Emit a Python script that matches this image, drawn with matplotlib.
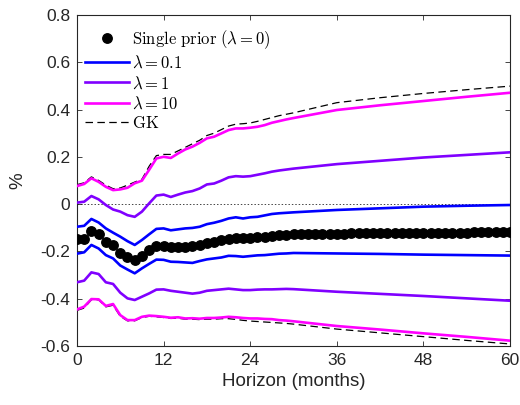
import numpy as np
import matplotlib
matplotlib.use("Agg")
import matplotlib.pyplot as plt

plt.rcParams['font.family'] = ['Liberation Sans', 'DejaVu Sans']
plt.rcParams['mathtext.fontset'] = 'cm'

# horizons: monthly up to 30, then every 6 months
h_lines = list(range(0, 31)) + [36, 42, 48, 54, 60]
h_dots = list(range(0, 61))

single_prior = [-0.149, -0.148, -0.113, -0.128, -0.159, -0.175, -0.205, -0.224, -0.237, -0.218,
                -0.194, -0.176, -0.178, -0.182, -0.182, -0.180, -0.179, -0.172, -0.166, -0.161,
                -0.153, -0.146, -0.142, -0.144, -0.144, -0.141, -0.138, -0.135, -0.132, -0.130,
                -0.128, -0.127, -0.127, -0.126, -0.126, -0.125, -0.125, -0.125, -0.124, -0.124,
                -0.124, -0.123, -0.123, -0.123, -0.123, -0.122, -0.122, -0.122, -0.122, -0.122,
                -0.121, -0.121, -0.121, -0.121, -0.121, -0.120, -0.120, -0.120, -0.120, -0.120,
                -0.120]

blue_up = [-0.096, -0.092, -0.063, -0.078, -0.103, -0.121, -0.138, -0.157, -0.173, -0.152,
           -0.128, -0.105, -0.103, -0.111, -0.107, -0.103, -0.101, -0.096, -0.085, -0.079,
           -0.071, -0.061, -0.056, -0.061, -0.056, -0.054, -0.048, -0.042, -0.039, -0.037,
           -0.035, -0.025, -0.018, -0.011, -0.007, -0.004]
blue_lo = [-0.210, -0.204, -0.173, -0.188, -0.216, -0.230, -0.260, -0.277, -0.293, -0.272,
           -0.253, -0.235, -0.236, -0.244, -0.245, -0.247, -0.249, -0.241, -0.234, -0.230,
           -0.226, -0.219, -0.220, -0.223, -0.220, -0.217, -0.216, -0.213, -0.210, -0.209,
           -0.207, -0.209, -0.211, -0.214, -0.216, -0.218]
purple_up = [0.006, 0.010, 0.034, 0.020, -0.004, -0.023, -0.032, -0.047, -0.054, -0.032,
             0.003, 0.036, 0.040, 0.030, 0.040, 0.049, 0.055, 0.066, 0.083, 0.087,
             0.099, 0.113, 0.118, 0.116, 0.118, 0.124, 0.130, 0.137, 0.142, 0.146,
             0.150, 0.169, 0.183, 0.197, 0.208, 0.219]
purple_lo = [-0.331, -0.324, -0.289, -0.296, -0.331, -0.338, -0.375, -0.399, -0.406, -0.392,
             -0.378, -0.362, -0.361, -0.367, -0.371, -0.375, -0.379, -0.375, -0.367, -0.364,
             -0.361, -0.358, -0.361, -0.364, -0.364, -0.362, -0.361, -0.361, -0.360, -0.359,
             -0.360, -0.371, -0.380, -0.389, -0.399, -0.409]
magenta_up = [0.076, 0.085, 0.109, 0.094, 0.073, 0.059, 0.062, 0.069, 0.088, 0.099,
              0.145, 0.193, 0.200, 0.195, 0.214, 0.231, 0.243, 0.259, 0.278, 0.285,
              0.299, 0.313, 0.320, 0.320, 0.323, 0.327, 0.334, 0.344, 0.351, 0.358,
              0.364, 0.398, 0.418, 0.436, 0.454, 0.471]
magenta_lo = [-0.446, -0.434, -0.402, -0.403, -0.431, -0.423, -0.470, -0.491, -0.491, -0.477,
              -0.472, -0.474, -0.477, -0.481, -0.479, -0.484, -0.483, -0.485, -0.482, -0.482,
              -0.480, -0.477, -0.479, -0.482, -0.484, -0.484, -0.486, -0.487, -0.491, -0.493,
              -0.496, -0.516, -0.531, -0.547, -0.562, -0.578]
gk_up = [0.082, 0.090, 0.115, 0.100, 0.080, 0.065, 0.068, 0.080, 0.093, 0.105,
         0.160, 0.205, 0.210, 0.210, 0.225, 0.240, 0.255, 0.270, 0.290, 0.300,
         0.315, 0.330, 0.338, 0.340, 0.343, 0.350, 0.358, 0.366, 0.374, 0.380,
         0.386, 0.429, 0.450, 0.468, 0.484, 0.499]
gk_lo = [-0.450, -0.440, -0.405, -0.405, -0.435, -0.428, -0.475, -0.494, -0.494, -0.480,
         -0.475, -0.477, -0.480, -0.484, -0.483, -0.487, -0.487, -0.489, -0.487, -0.487,
         -0.485, -0.485, -0.488, -0.492, -0.495, -0.497, -0.499, -0.501, -0.503, -0.505,
         -0.508, -0.529, -0.545, -0.561, -0.577, -0.592]

xticks = [0, 12, 24, 36, 48, 60]
yticks = [-0.6, -0.4, -0.2, 0, 0.2, 0.4, 0.6, 0.8]
ytick_labels = ["-0.6", "-0.4", "-0.2", "0", "0.2", "0.4", "0.6", "0.8"]

c_blue = "#0000ff"
c_purple = "#8000ff"
c_magenta = "#ff00ff"
txt = "#262626"

fig = plt.figure(figsize=(5.2, 4.05), dpi=100)
ax = fig.add_axes([0.148, 0.146, 0.833, 0.817])

ax.axhline(0, color="#444444", lw=0.7, ls=(0, (1.5, 2)), zorder=1)

lw = 1.9
ax.plot(h_lines, gk_up, color="k", lw=0.9, ls=(0, (6, 3.5)), zorder=2)
ax.plot(h_lines, gk_lo, color="k", lw=0.9, ls=(0, (6, 3.5)), zorder=2)
ax.plot(h_lines, blue_up, color=c_blue, lw=lw, zorder=3)
ax.plot(h_lines, blue_lo, color=c_blue, lw=lw, zorder=3)
ax.plot(h_lines, purple_up, color=c_purple, lw=lw, zorder=3)
ax.plot(h_lines, purple_lo, color=c_purple, lw=lw, zorder=3)
ax.plot(h_lines, magenta_up, color=c_magenta, lw=lw, zorder=3)
ax.plot(h_lines, magenta_lo, color=c_magenta, lw=lw, zorder=3)
ax.plot(h_dots, single_prior, "o", color="k", ms=6.8, zorder=4)

# legend handles
hd, = ax.plot([], [], "o", color="k", ms=6.8)
hb, = ax.plot([], [], color=c_blue, lw=lw)
hp, = ax.plot([], [], color=c_purple, lw=lw)
hm, = ax.plot([], [], color=c_magenta, lw=lw)
hg, = ax.plot([], [], color="k", lw=0.9, ls=(0, (6, 3.5)))
leg = ax.legend([hd, hb, hp, hm, hg],
                [r"$\mathrm{Single\ prior}\ (\lambda = 0)$", r"$\lambda = 0.1$",
                 r"$\lambda = 1$", r"$\lambda = 10$", r"$\mathrm{GK}$"],
                loc="upper left", frameon=False, fontsize=12, handlelength=2.6,
                handletextpad=0.2, labelspacing=0.22, borderaxespad=0.1,
                bbox_to_anchor=(0.0, 0.985))

ax.set_xlim(0, 60)
ax.set_ylim(-0.6, 0.8)
ax.set_xticks(xticks)
ax.set_xticklabels([str(t) for t in xticks])
ax.set_yticks(yticks)
ax.set_yticklabels(ytick_labels)
ax.tick_params(direction="in", top=True, right=True, labelsize=12.5,
               colors=txt, length=3.5, width=0.6, pad=5)
for s in ax.spines.values():
    s.set_linewidth(0.8)
    s.set_color("#262626")

ax.set_xlabel("Horizon (months)", fontsize=13.5, color=txt, labelpad=4)
ax.set_ylabel("%", fontsize=13.5, color=txt, labelpad=10)

fig.savefig("out.png", dpi=100)
